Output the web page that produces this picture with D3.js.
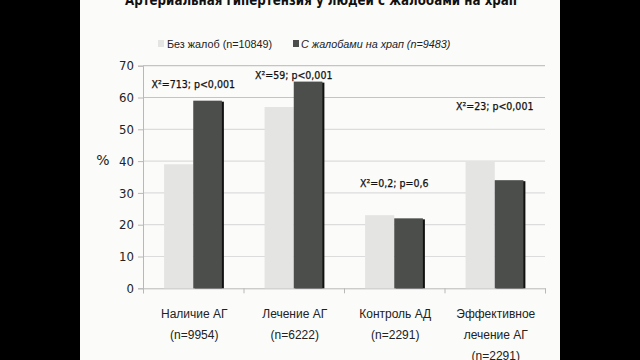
<!DOCTYPE html>
<html>
<head>
<meta charset="utf-8">
<script src="https://cdn.jsdelivr.net/npm/d3@7"></script>
<style>
  body { margin:0; background:#000; }
  svg { display:block; }
</style>
</head>
<body>
<script>
var categories = [["Наличие АГ","(n=9954)"],["Лечение АГ","(n=6222)"],["Контроль АД","(n=2291)"],["Эффективное","лечение АГ","(n=2291)"]];
var seriesNames = ["Без жалоб (n=10849)","С жалобами на храп (n=9483)"];
var noComplaints = [39, 57, 23, 40];
var snoring = [59, 65, 22, 34];
var stats = ["X²=713; p<0,001","X²=59; p<0,001","X²=0,2; p=0,6","X²=23; p<0,001"];
var yTicks = [0,10,20,30,40,50,60,70];

var colors = ["#e4e4e2","#4b4e4b"];
// level (in % units) where each stat label sits
var statLevel = [63, 65.8, 32, 56.2];

var svg = d3.select("body").append("svg").attr("width",640).attr("height",360);

svg.append("rect").attr("x",80).attr("y",0).attr("width",480).attr("height",360).attr("fill","#fbfbf9");

var plotL=143, plotR=545, plotT=65.7, plotB=288.3;

var y = d3.scaleLinear().domain([0,70]).range([plotB,plotT]);
var idx = d3.range(categories.length);
var x = d3.scaleBand().domain(idx).range([plotL,plotR]).paddingInner(0.42).paddingOuter(0.21);
var xs = d3.scaleBand().domain([0,1]).range([0,x.bandwidth()]);

// gridlines
svg.append("g").selectAll("line")
  .data(yTicks.slice(1))
  .enter().append("line")
    .attr("x1",plotL).attr("x2",plotR)
    .attr("y1",function(d){return y(d);})
    .attr("y2",function(d){return y(d);})
    .attr("stroke",function(d){return d>=60 ? "#c4c4c4" : "#dcdcdc";})
    .attr("stroke-width",1.2);

// y axis
var yAxis = d3.axisLeft(y).tickValues(yTicks).tickSize(5).tickPadding(4);
var gy = svg.append("g").attr("transform","translate("+plotL+",0)").call(yAxis);
gy.select(".domain").attr("stroke","#b8b8b8");
gy.selectAll(".tick line").attr("stroke","#b8b8b8");
gy.selectAll("text").attr("font-family","'DejaVu Sans Condensed'").attr("font-size",13).attr("fill","#222");

svg.append("text").attr("x",103).attr("y",165).attr("text-anchor","middle")
  .attr("font-family","'DejaVu Sans'").attr("font-size",14).attr("fill","#222").text("%");

// x axis
var xAxis = d3.axisBottom(d3.scaleLinear().domain([0,4]).range([plotL,plotR])).ticks(4).tickSize(5).tickFormat("");
var gx = svg.append("g").attr("transform","translate(0,"+plotB+")").call(xAxis);
gx.select(".domain").attr("stroke","#b8b8b8");
gx.selectAll(".tick line").attr("stroke","#b8b8b8");

// bars
var series = [noComplaints, snoring];
series.forEach(function(vals,s){
  var g = svg.append("g");
  if(s==1){
    g.selectAll("rect.shadow")
      .data(vals)
      .enter().append("rect")
        .attr("class","shadow")
        .attr("x",function(d,i){return x(i)+xs(s)+1.5;})
        .attr("y",function(d){return y(d)+1;})
        .attr("width",xs.bandwidth())
        .attr("height",function(d){return plotB-y(d)-1;})
        .attr("fill","#111");
  }
  g.selectAll("rect.bar")
    .data(vals)
    .enter().append("rect")
      .attr("class","bar")
      .attr("x",function(d,i){return x(i)+xs(s);})
      .attr("y",function(d){return y(d);})
      .attr("width",xs.bandwidth()-(s==0?0:0.5))
      .attr("height",function(d){return plotB-y(d);})
      .attr("fill",colors[s]);
});

// stat labels
svg.append("g").selectAll("text")
  .data(stats)
  .enter().append("text")
    .attr("x",function(d,i){return x(i)+x.bandwidth()/2;})
    .attr("y",function(d,i){return y(statLevel[i]);})
    .attr("text-anchor","middle")
    .attr("font-family","'DejaVu Sans Condensed'")
    .attr("font-size",10.5)
    .attr("stroke","#111").attr("stroke-width",0.25)
    .attr("fill","#111")
    .text(function(d){return d;});

// category labels
var cl = svg.append("g").selectAll("text")
  .data(categories)
  .enter().append("text")
    .attr("text-anchor","middle")
    .attr("font-family","'Liberation Sans'")
    .attr("font-size",12)
    .attr("fill","#222");
cl.selectAll("tspan")
  .data(function(d,i){return d.map(function(t){return {t:t,i:i};});})
  .enter().append("tspan")
    .attr("x",function(d){return x(d.i)+x.bandwidth()/2+1;})
    .attr("y",function(d,j){return 318+j*21;})
    .text(function(d){return d.t;});

// legend
var lx = [158, 293];
var lg = svg.append("g").selectAll("g")
  .data(seriesNames)
  .enter().append("g")
    .attr("transform",function(d,i){return "translate("+lx[i]+",40)";});
lg.append("rect").attr("width",6).attr("height",7)
  .attr("fill",function(d,i){return colors[i];});
lg.append("text").attr("x",function(d,i){return i==0?9:8;}).attr("y",8)
  .attr("font-family","'Liberation Sans'").attr("font-size",10.8)
  .attr("font-style",function(d,i){return i==1?"italic":"normal";})
  .attr("fill","#222")
  .text(function(d){return d;});

// title (cut off at the top)
svg.append("text").attr("x",321).attr("y",5).attr("text-anchor","middle")
  .attr("font-family","'DejaVu Sans Condensed'").attr("font-weight","bold").attr("font-size",13.2)
  .attr("fill","#111").text("Артериальная гипертензия у людей с жалобами на храп");
</script>
</body>
</html>
